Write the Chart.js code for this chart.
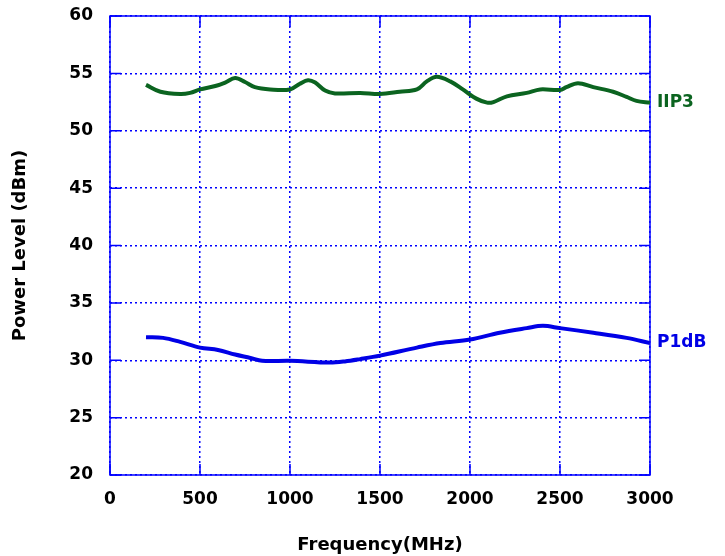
<!DOCTYPE html>
<html>
<head>
<meta charset="utf-8">
<script src="https://cdn.jsdelivr.net/npm/chart.js@4/dist/chart.umd.min.js"></script>
<style>
    html, body { margin: 0; padding: 0; background: #fff; }
    #box { width: 725px; height: 556px; }
</style>
</head>
<body>
<div id="box"><canvas id="grafico"></canvas></div>
<script>
// datos
let freq_iip3 = [200, 280, 390, 445, 500, 585, 640, 695, 750, 805, 890, 1000, 1055, 1100, 1140, 1195, 1250, 1390, 1500, 1610, 1705, 1760, 1815, 1890, 1960, 2035, 2095, 2130, 2205, 2315, 2390, 2500, 2535, 2600, 2685, 2795, 2870, 2925, 3000];
let iip3 = [54.0, 53.4, 53.2, 53.3, 53.6, 53.9, 54.2, 54.6, 54.25, 53.8, 53.6, 53.6, 54.1, 54.4, 54.2, 53.5, 53.25, 53.3, 53.2, 53.4, 53.6, 54.3, 54.7, 54.3, 53.6, 52.8, 52.45, 52.5, 53.0, 53.3, 53.6, 53.55, 53.8, 54.15, 53.8, 53.4, 52.95, 52.6, 52.45];
let freq_p1db = [200, 295, 390, 500, 600, 695, 780, 845, 1000, 1220, 1305, 1390, 1500, 1705, 1835, 2000, 2165, 2315, 2405, 2500, 2685, 2870, 3000];
let p1db = [32.0, 31.95, 31.6, 31.1, 30.9, 30.5, 30.2, 29.95, 29.95, 29.8, 29.9, 30.1, 30.4, 31.1, 31.5, 31.8, 32.4, 32.8, 33.0, 32.8, 32.4, 31.95, 31.5];
let series_names = ['IIP3', 'P1dB'];
let series_colors = ['#0b6420', '#0000e6'];

let toXY = (xs, ys) => xs.map((x, i) => ({x: x, y: ys[i]}));

let familia = '"DejaVu Sans", Verdana, sans-serif';
let fuente = {family: familia, size: 17, weight: 'bold'};
let fuente_titulo = {family: familia, size: 18, weight: 'bold'};

// marco y marcas cortas hacia adentro en los cuatro lados
let ticksAdentro = {
    id: 'ticksAdentro',
    beforeDatasetsDraw: (chart) => {
        let ctx = chart.ctx;
        let a = chart.chartArea;
        let sx = chart.scales.x, sy = chart.scales.y;
        ctx.save();
        ctx.strokeStyle = '#0000ff';
        ctx.lineWidth = 1.5;
        ctx.beginPath();
        sx.ticks.forEach(t => {
            let px = sx.getPixelForValue(t.value);
            ctx.moveTo(px, a.bottom); ctx.lineTo(px, a.bottom - 11);
            ctx.moveTo(px, a.top); ctx.lineTo(px, a.top + 11);
        });
        sy.ticks.forEach(t => {
            let py = sy.getPixelForValue(t.value);
            ctx.moveTo(a.left, py); ctx.lineTo(a.left + 11, py);
            ctx.moveTo(a.right, py); ctx.lineTo(a.right - 11, py);
        });
        ctx.stroke();
        ctx.strokeRect(a.left, a.top, a.right - a.left, a.bottom - a.top);
        ctx.restore();
    }
};

// nombre de cada curva al final de la linea
let etiquetas = {
    id: 'etiquetas',
    afterDatasetsDraw: (chart) => {
        let ctx = chart.ctx;
        ctx.save();
        ctx.font = 'bold 17px ' + familia;
        ctx.textBaseline = 'middle';
        chart.data.datasets.forEach((ds, i) => {
            let pts = chart.getDatasetMeta(i).data;
            let ult = pts[pts.length - 1];
            ctx.fillStyle = ds.borderColor;
            ctx.fillText(ds.label, ult.x + 7, ult.y);
        });
        ctx.restore();
    }
};

let grafico = new Chart(document.getElementById('grafico'), {
    type: 'line',
    data: {
        datasets: [
            {label: series_names[0], data: toXY(freq_iip3, iip3), borderColor: series_colors[0], borderWidth: 4, pointRadius: 0, tension: 0.35, fill: false},
            {label: series_names[1], data: toXY(freq_p1db, p1db), borderColor: series_colors[1], borderWidth: 4, pointRadius: 0, tension: 0.35, fill: false}
        ]
    },
    options: {
        responsive: true,
        maintainAspectRatio: false,
        animation: false,
        layout: {padding: {left: 0, top: 16, right: 75, bottom: 0}},
        plugins: {legend: {display: false}, tooltip: {enabled: false}},
        scales: {
            x: {
                type: 'linear', min: 0, max: 3000,
                afterFit: (s) => { s.height = 81; s.paddingLeft = 0; s.paddingRight = 0; },
                border: {display: false, dash: [2, 3]},
                grid: {color: '#0000ff', lineWidth: 1.5, drawTicks: false},
                ticks: {stepSize: 500, color: '#000', font: fuente, padding: 14, maxRotation: 0, callback: (v) => String(v)},
                title: {display: true, text: 'Frequency(MHz)', color: '#000', font: fuente_titulo, padding: {top: 0, bottom: 0}}
            },
            y: {
                min: 20, max: 60,
                afterFit: (s) => { s.width = 110; s.paddingTop = 0; s.paddingBottom = 0; },
                border: {display: false, dash: [2, 3]},
                grid: {color: '#0000ff', lineWidth: 1.5, drawTicks: false},
                ticks: {stepSize: 5, color: '#000', font: fuente, padding: 17, callback: (v) => String(v)},
                title: {display: true, text: 'Power Level (dBm)', color: '#000', font: fuente_titulo, padding: {top: 10, bottom: 0}}
            }
        }
    },
    plugins: [ticksAdentro, etiquetas]
});
</script>
</body>
</html>
